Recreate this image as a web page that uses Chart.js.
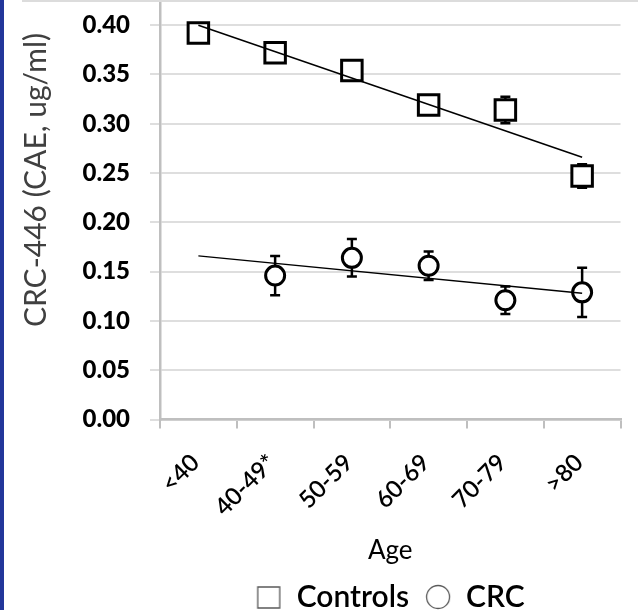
<!DOCTYPE html>
<html>
<head>
<meta charset="utf-8">
<script src="https://cdn.jsdelivr.net/npm/chart.js@4"></script>
<style>
  html, body { margin: 0; padding: 0; background: #fff; }
  #wrap { position: relative; width: 638px; height: 610px; overflow: hidden; }
  #myChart { position: absolute; left: 0; top: -77px; }
  #strip { position: absolute; left: 0; top: 0; width: 4px; height: 610px; background: #22369a; }
  #topline { position: absolute; left: 22px; top: 0; width: 616px; height: 2px; background: #dcdcdc; }
</style>
</head>
<body>
<div id="wrap">
  <canvas id="myChart" width="638" height="699"></canvas>
  <div id="topline"></div>
  <div id="strip"></div>
</div>
<script>
const ctx = document.getElementById("myChart").getContext("2d");

// age groups
const categories = ['<40', '40-49*', '50-59', '60-69', '70-79', '>80'];

// mean values
const controls = [0.392, 0.372, 0.354, 0.319, 0.314, 0.247];
const controlsErr = [0.006, 0.010, 0.010, 0.005, 0.0135, 0.012];
const crc = [null, 0.146, 0.164, 0.156, 0.121, 0.129];
const crcErr = [null, 0.020, 0.019, 0.0145, 0.014, 0.025];

// linear trendline end points
const controlsTrend = [0.400, null, null, null, null, 0.266];
const crcTrend = [0.166, null, null, null, null, 0.128];

const yMin = 0;
const yMax = 0.4859;
const yStep = 0.05;
const yLastTick = 0.40;

//Error bars, drawn under the markers
const errorBars = {
    id: 'errorBars',
    beforeDatasetsDraw(chart) {
        const c = chart.ctx;
        const xs = chart.scales.x;
        const ys = chart.scales.y;
        const sets = [[controls, controlsErr], [crc, crcErr]];
        c.save();
        c.strokeStyle = '#000';
        c.lineWidth = 2.5;
        sets.forEach(([vals, errs]) => {
            vals.forEach((v, i) => {
                if (v === null) return;
                const x = xs.getPixelForValue(i);
                const top = ys.getPixelForValue(v + errs[i]);
                const bot = ys.getPixelForValue(v - errs[i]);
                c.beginPath();
                c.moveTo(x, top); c.lineTo(x, bot);
                c.moveTo(x - 5, top); c.lineTo(x + 5, top);
                c.moveTo(x - 5, bot); c.lineTo(x + 5, bot);
                c.stroke();
            });
        });
        c.restore();
    }
};

// center the legend under the plot area instead of the canvas
const legendUnderPlot = {
    id: 'legendUnderPlot',
    afterLayout(chart) {
        if (!chart.legend) return;
        chart.legend.left = chart.chartArea.left;
        chart.legend.right = chart.chartArea.right;
    }
};

// thin outlined markers for the legend
function legendMarker(shape) {
    const m = document.createElement('canvas');
    m.width = 26; m.height = 26;
    const g = m.getContext('2d');
    g.strokeStyle = '#595959';
    g.fillStyle = '#fff';
    g.lineWidth = 1.3;
    g.beginPath();
    if (shape === 'rect') g.rect(2, 3, 22, 21);
    else g.arc(13, 13, 11.5, 0, Math.PI * 2);
    g.fill();
    g.stroke();
    return m;
}
const legendSquare = legendMarker('rect');
const legendCircle = legendMarker('circle');

const data = {
    labels: categories,
    datasets: [
        {
            label: 'Controls',
            data: controls,
            showLine: false,
            pointStyle: 'rect',
            pointRadius: 14.5,
            pointBorderWidth: 3,
            pointBorderColor: '#000',
            pointBackgroundColor: '#fff',
            order: 2,
        },
        {
            label: 'CRC',
            data: crc,
            showLine: false,
            pointStyle: 'circle',
            pointRadius: 9.5,
            pointBorderWidth: 3,
            pointBorderColor: '#000',
            pointBackgroundColor: '#fff',
            order: 2,
        },
        {
            label: '',
            data: controlsTrend,
            spanGaps: true,
            borderColor: '#000',
            borderWidth: 1.5,
            pointRadius: 0,
            order: 1,
        },
        {
            label: '',
            data: crcTrend,
            spanGaps: true,
            borderColor: '#000',
            borderWidth: 1.5,
            pointRadius: 0,
            order: 1,
        },
    ],
};

const config = {
    type: 'line',
    data: data,
    plugins: [errorBars, legendUnderPlot],
    options: {
        responsive: false,
        animation: false,
        events: [],
        layout: {
            padding: { top: 0, left: 10, right: 16, bottom: 0 },
        },
        plugins: {
            tooltip: { enabled: false },
            legend: {
                position: 'bottom',
                labels: {
                    usePointStyle: true,
                    boxWidth: 26,
                    boxHeight: 26,
                    padding: 16,
                    color: '#000',
                    font: { family: 'Lato', size: 30, weight: '600' },
                    filter: (item) => item.text !== '',
                    generateLabels: (chart) => chart.data.datasets.map((ds, i) => ({
                        text: ds.label,
                        datasetIndex: i,
                        pointStyle: i === 0 ? legendSquare : legendCircle,
                        fontColor: '#000',
                        lineWidth: 0,
                    })),
                },
            },
        },
        scales: {
            x: {
                offset: true,
                grid: {
                    offset: true,
                    drawOnChartArea: false,
                    tickLength: 9,
                    color: '#bfbfbf',
                    lineWidth: 2,
                },
                border: { color: '#bfbfbf', width: 2.5 },
                ticks: {
                    minRotation: 45,
                    maxRotation: 45,
                    padding: 20,
                    labelOffset: -3,
                    color: '#000',
                    font: { family: 'Lato', size: 24, weight: '600' },
                },
                title: {
                    display: true,
                    text: 'Age',
                    color: '#000',
                    font: { family: 'Lato', size: 26 },
                    padding: { top: -7, bottom: 0 },
                },
            },
            y: {
                min: yMin,
                max: yMax,
                afterBuildTicks: (scale) => {
                    scale.ticks = scale.ticks.filter(t => t.value <= yLastTick + 1e-6);
                },
                afterFit: (scale) => {
                    scale.width = 150;
                    scale.paddingTop = 0;
                },
                grid: {
                    color: '#dedede',
                    lineWidth: 2,
                    tickLength: 10,
                },
                border: { color: '#bfbfbf', width: 2.5 },
                ticks: {
                    stepSize: yStep,
                    padding: 20,
                    color: '#000',
                    font: { family: 'Lato', size: 24, weight: '900' },
                    callback: function(value) {
                        return value.toFixed(2);
                    },
                },
                title: {
                    display: true,
                    text: 'CRC-446 (CAE, ug/ml)',
                    color: '#404040',
                    font: { family: 'Lato', size: 30 },
                    padding: { top: 8, bottom: 0 },
                },
            },
        },
    },
};

const myChart = new Chart(ctx, config);
</script>
</body>
</html>
